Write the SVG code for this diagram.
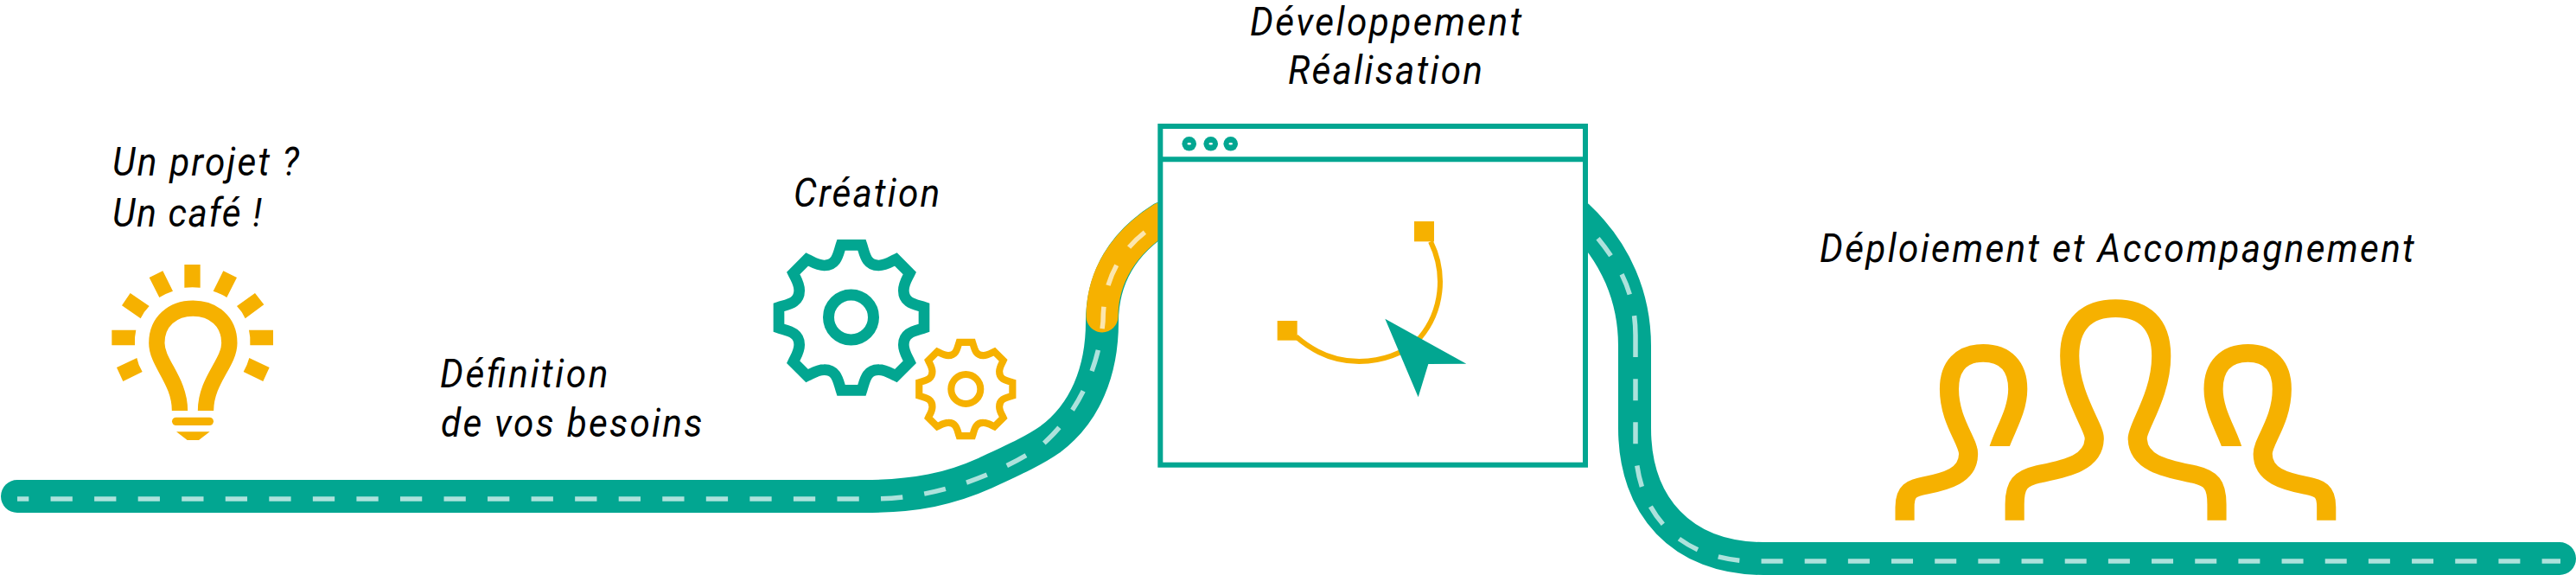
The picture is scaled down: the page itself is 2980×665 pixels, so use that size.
<svg xmlns="http://www.w3.org/2000/svg" width="2980" height="665" viewBox="0 0 2980 665">
<style>
.road{fill:none;stroke:#02a691;stroke-width:38;stroke-linecap:round}
.roady{fill:none;stroke:#f6b100;stroke-width:37;stroke-linecap:round}
.dash{fill:none;stroke:#fff;stroke-opacity:.68;stroke-width:5.5}
.t{font-family:"Roboto","Liberation Sans",sans-serif;font-style:italic;font-size:47px;font-weight:400;fill:#000}
.yf{fill:#f6b100}
.tf{fill:#02a691}
.gear{fill:none;stroke-width:38;stroke-linejoin:miter}
.p{fill:none;stroke:#f6b100;stroke-linejoin:round}
</style>
<defs>
<path id="gearshape" d="M36,-252 C46,-222 50,-180 95,-181 C118,-181 135,-193 154,-202 L202,-154 C193,-135 181,-118 181,-95 C180,-50 222,-46 252,-36 L252,36 C222,46 180,50 181,95 C181,118 193,135 202,154 L154,202 C135,193 118,181 95,181 C50,180 46,222 36,252 L-36,252 C-46,222 -50,180 -95,181 C-118,181 -135,193 -154,202 L-202,154 C-193,135 -181,118 -181,95 C-180,50 -222,46 -252,36 L-252,-36 C-222,-46 -180,-50 -181,-95 C-181,-118 -193,-135 -202,-154 L-154,-202 C-135,-193 -118,-181 -95,-181 C-50,-180 -46,-222 -36,-252 Z"/>
<clipPath id="pclip"><path d="M-10,-10H800V558H325V900H-10Z"/></clipPath>
<g id="sideperson"><path class="p" stroke-width="62" clip-path="url(#pclip)" d="M66,815 V770 C66,710 90,705 130,695 C200,680 272,660 272,585 C272,540 210,470 210,360 C210,280 250,235 320,235 C390,235 432,280 432,360 C432,440 385,510 368,575"/></g>
</defs>
<g id="connectors">
<path id="road-left" class="road" d="M20,574 H1000 C1060,574 1100,565 1140,547 C1170,533 1195,522 1215,508 C1255,478 1275,430 1275,372 C1275,320 1300,280 1345,252"/>
<path id="road-yellow" class="roady" d="M1275,366 C1275,320 1300,280 1345,252"/>
<path id="road-right" class="road" d="M1825,250 C1870,292 1891,345 1891,400 V495 C1891,585 1945,646 2040,646 H2961"/>
<path id="dash-left" class="dash" stroke-dasharray="25.3 25.25" stroke-dashoffset="12" d="M20,577 H1010 C1090,577 1165,543 1205,515 C1245,480 1270,430 1276,372 C1276,320 1300,280 1345,255"/>
<path id="dash-right2" class="dash" stroke-dasharray="25 25.17" d="M1892,388 V513 C1892,600 1950,649 2030,649 H2962"/>
<path id="dash-right3" class="dash" stroke-dasharray="25 25.17" stroke-dashoffset="2" d="M1892,388 C1892,340 1875,300 1825,250"/>
</g>
<g id="window">
<rect x="1342.3" y="146" width="491.7" height="391.7" fill="#fff" stroke="#02a691" stroke-width="6"/>
<path d="M1342,184.3H1834" stroke="#02a691" stroke-width="6" fill="none"/>
<g class="tf"><circle cx="1375.7" cy="166.3" r="8.3"/><circle cx="1400.7" cy="166.3" r="8.3"/><circle cx="1423.7" cy="166.3" r="8.3"/></g>
<g fill="#fff"><ellipse cx="1375.7" cy="166.3" rx="2.3" ry="1.2"/><ellipse cx="1400.7" cy="166.3" rx="2.3" ry="1.2"/><ellipse cx="1423.7" cy="166.3" rx="2.3" ry="1.2"/></g>
<g transform="translate(1460,230) scale(.33333)">
<path d="M585,148 C640,260 625,390 548,482 C480,560 280,620 118,478" fill="none" stroke="#f6b100" stroke-width="18"/>
<rect class="yf" x="528" y="78" width="69" height="70"/>
<rect class="yf" x="53" y="423" width="69" height="68"/>
<path class="tf" d="M427,416 L709,572 L577,573 L542,688 Z"/>
</g>
</g>
<g id="idea">
<text class="t" transform="translate(130,203) scale(.9,1)" textLength="240">Un projet ?</text>
<text class="t" transform="translate(130,262) scale(.9,1)" textLength="192">Un café !</text>
<g transform="translate(80,140) scale(.33333)">
<path fill="none" stroke="#f6b100" stroke-width="55" d="M384,1005 C384,900 304,840 304,770 C304,695 360,650 430,650 C500,650 556,695 556,770 C556,840 474,900 474,1005"/>
<rect class="yf" x="357" y="1028" width="144" height="28" rx="14"/>
<path class="yf" d="M372,1078 H488 L450,1107 H410 Z"/>
<path class="yf" d="M400,498 H455 V578 Q428,575 400,578 Z"/>
<path class="yf" d="M278,543 L325,520 L360,590 Q335,598 313,612 Z"/>
<path class="yf" d="M582,543 L535,520 L500,590 Q525,598 547,612 Z"/>
<path class="yf" d="M212,597 L278,642 Q260,660 248,685 L183,640 Z"/>
<path class="yf" d="M645,597 L676,637 L611,685 Q600,660 582,642 Z"/>
<path class="yf" d="M148,725 H232 Q226,750 228,778 H148 Z"/>
<path class="yf" d="M624,725 H708 V778 H628 Q630,750 624,725 Z"/>
<path class="yf" d="M165,855 L235,822 Q240,848 254,870 L187,903 Z"/>
<path class="yf" d="M625,822 L695,855 L673,903 L605,870 Q618,848 625,822 Z"/>
</g>
</g>
<g id="definition">
<text class="t" transform="translate(509,448) scale(.9,1)" textLength="216">Définition</text>
<text class="t" transform="translate(510,505) scale(.9,1)" textLength="336">de vos besoins</text>
</g>
<g id="creation">
<text class="t" transform="translate(918,239) scale(.9,1)" textLength="188">Création</text>
<use href="#gearshape" class="gear" stroke="#02a691" transform="translate(985,367.3) scale(.33333)"/>
<circle cx="984.5" cy="367" r="26" fill="none" stroke="#02a691" stroke-width="13"/>
<use href="#gearshape" class="gear" stroke="#f6b100" transform="translate(1117.3,450) scale(.2145)"/>
<circle cx="1117.3" cy="450" r="17" fill="none" stroke="#f6b100" stroke-width="8"/>
</g>
<g id="development">
<text class="t" transform="translate(1446,41) scale(.9,1)" textLength="349">Développement</text>
<text class="t" transform="translate(1490,97) scale(.9,1)" textLength="250">Réalisation</text>
</g>
<g id="deployment">
<text class="t" transform="translate(2105,303) scale(.9,1)" textLength="764">Déploiement et Accompagnement</text>
<g transform="translate(2180,330) scale(.357,.3333)">
<path class="p" stroke-width="62" d="M422,815 V760 C422,690 440,670 500,655 C580,637 680,620 680,530 C680,490 600,380 600,245 C600,130 660,80 749,80 C838,80 897,130 897,245 C897,380 820,490 820,530 C820,620 920,637 1000,655 C1060,670 1077,690 1077,760 V815"/>
<use href="#sideperson"/>
<use href="#sideperson" transform="matrix(-1,0,0,1,1498,0)"/>
</g>
</g>
</svg>
